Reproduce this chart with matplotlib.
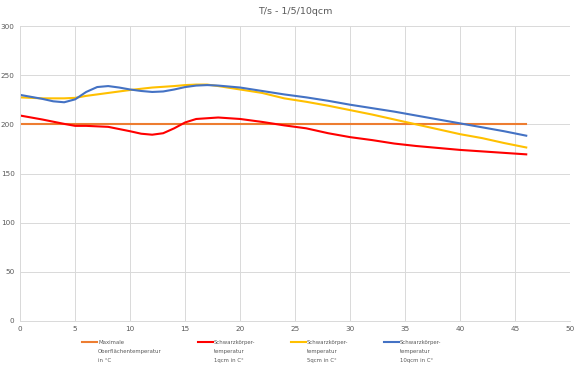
import matplotlib.pyplot as plt
from matplotlib import font_manager

x_red = [0, 2, 4, 5, 6, 8, 10, 11, 12, 13, 14, 15, 16, 18, 20, 22, 24, 26, 28, 30, 32, 34, 36, 38, 40, 42, 44, 46]
y_red = [209, 205, 200.5, 198.5, 198.5, 197.5, 193, 190.5, 189.5, 191, 196, 202, 205.5, 207, 205.5, 202.5, 199,
         196, 191, 187, 184, 180.5, 178, 176, 174, 172.5, 171, 169.5]

x_blue = [0, 1, 2, 3, 4, 5, 6, 7, 8, 9, 10, 11, 12, 13, 14, 15, 16, 17, 18, 20, 22, 24, 26, 28, 30, 32, 34,
          36, 38, 40, 42, 44, 46]
y_blue = [230, 228, 226, 223.5, 222.5, 225.5, 233, 238, 239, 237.5, 235.5, 234, 233, 233.5, 235.5, 238,
          239.5, 240, 239.5, 237.5, 234, 230.5, 227.5, 224, 220, 216.5, 213, 209, 205, 201, 197, 193, 188.5]

x_yellow = [0, 2, 4, 5, 6, 8, 10, 12, 14, 15, 16, 17, 18, 20, 22, 24, 26, 28, 30, 32, 34, 36, 38, 40, 42, 44, 46]
y_yellow = [227.5, 226.5, 226.5, 227, 229, 232, 235, 237.5, 239, 240, 240.5, 240.5, 239, 235.5, 232, 226.5,
            223, 219, 214.5, 210, 205, 200, 195, 190, 186, 181, 176.5]

x_max = [0, 46]
y_max = [200, 200]

labels = ['Maximale\nOberflächentemperatur\nin °C',
          'Schwarzkörper-\ntemperatur\n1qcm in C°',
          'Schwarzkörper-\ntemperatur\n5qcm in C°',
          'Schwarzkörper-\ntemperatur\n10qcm in C°']

names = {f.name for f in font_manager.fontManager.ttflist}
narrow = 'Liberation Sans Narrow' if 'Liberation Sans Narrow' in names else 'DejaVu Sans'

fig = plt.figure(figsize=(5.76, 3.68), dpi=100)
ax = fig.add_axes([0.035, 0.128, 0.955, 0.801])

ax.plot(x_max, y_max, color='#ED7D31', lw=1.5, label=labels[0])
ax.plot(x_red, y_red, color='#FF0000', lw=1.5, label=labels[1])
ax.plot(x_yellow, y_yellow, color='#FFC000', lw=1.5, label=labels[2])
ax.plot(x_blue, y_blue, color='#4472C4', lw=1.5, label=labels[3])

ax.set_xlim(0, 50)
ax.set_ylim(0, 300)
ax.set_xticks(range(0, 51, 5))
ax.set_yticks(range(0, 301, 50))
ax.grid(True, color='#D9D9D9', lw=0.7)
ax.set_axisbelow(True)
for s in ['top', 'right']:
    ax.spines[s].set_visible(False)
for s in ['left', 'bottom']:
    ax.spines[s].set_color('#D9D9D9')
    ax.spines[s].set_linewidth(0.7)
ax.tick_params(length=0, labelsize=5, labelcolor='#595959', pad=4)
for t in ax.get_xticklabels() + ax.get_yticklabels():
    t.set_fontfamily(narrow)
    t.set_fontsize(5.2)

ax.set_title('T/s - 1/5/10qcm', fontsize=6.8, color='#595959', pad=9, family=narrow)

leg = fig.legend(loc='upper left', bbox_to_anchor=(0.143, 0.076), ncol=4, frameon=False,
                 prop={'family': narrow, 'size': 3.9}, labelcolor='#595959',
                 handlelength=2.77, handletextpad=0.15, columnspacing=6.6, borderaxespad=0, borderpad=0)
for t in leg.get_texts():
    t.set_linespacing(1.95)
for col in leg._legend_handle_box.get_children():
    for entry in col.get_children():
        entry.align = 'top'

fig.savefig('out.png', dpi=100)
